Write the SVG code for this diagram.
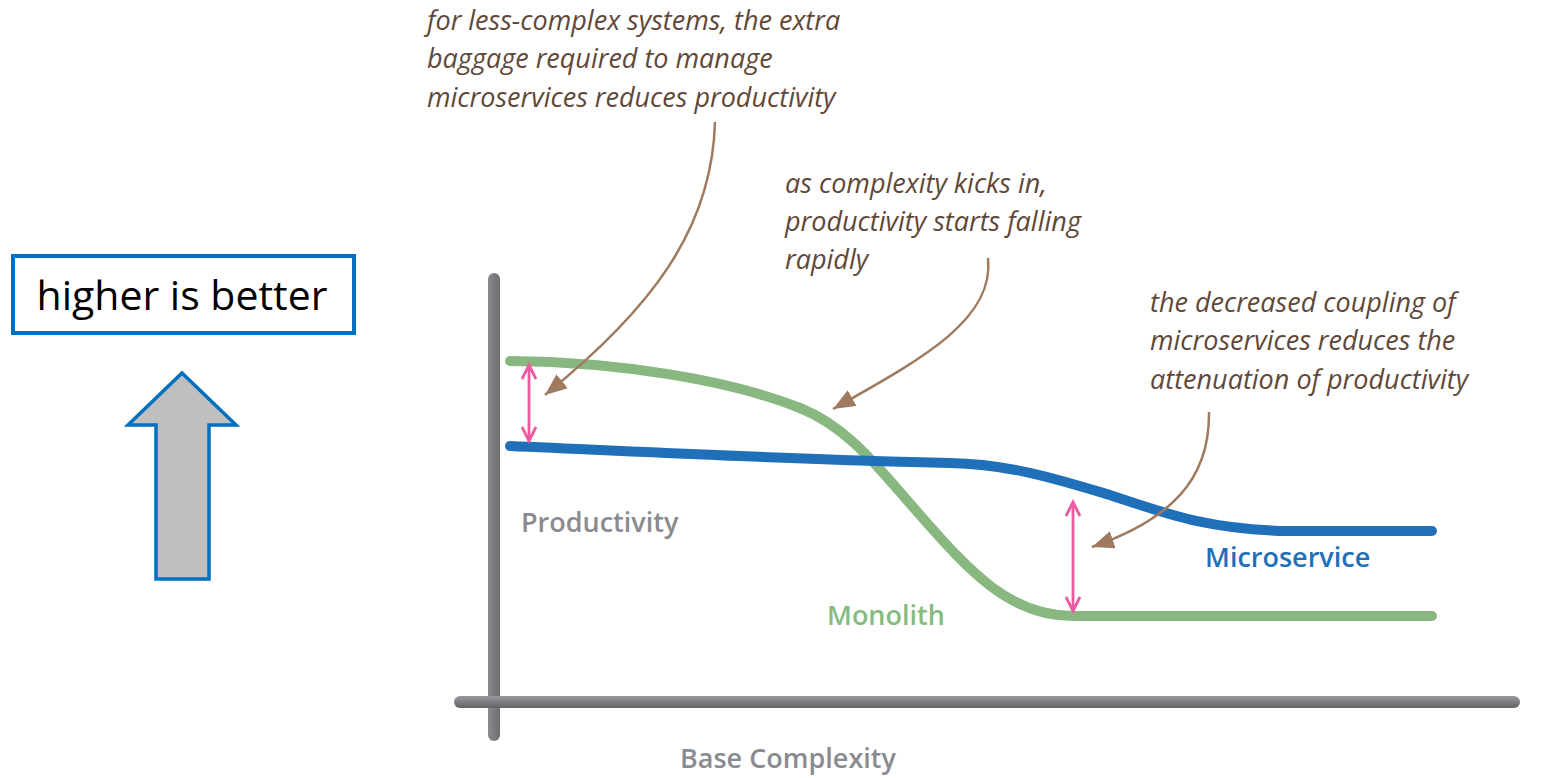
<svg xmlns="http://www.w3.org/2000/svg" width="1560" height="778" viewBox="0 0 1560 778">
<style>
.note{font-family:"Open Sans","DejaVu Sans",sans-serif;font-style:italic;font-size:27px;fill:#5f4838}
.lbl{font-family:"Open Sans","DejaVu Sans",sans-serif;font-weight:600;font-size:27px}
.ann{fill:none;stroke:#a07a5e;stroke-width:2.5}
.gap{fill:none;stroke:#ec5aa0;stroke-width:2.8}
.curve{fill:none;stroke-width:10;stroke-linecap:round;stroke-linejoin:round}
</style>
<defs>
<linearGradient id="gh" gradientUnits="userSpaceOnUse" x1="0" y1="696" x2="0" y2="708"><stop offset="0" stop-color="#98989c"/><stop offset="1" stop-color="#636368"/></linearGradient>
<linearGradient id="gv" gradientUnits="userSpaceOnUse" x1="488" y1="0" x2="500" y2="0"><stop offset="0" stop-color="#8a8a8f"/><stop offset="1" stop-color="#6c6c71"/></linearGradient>
<marker id="ah" markerUnits="userSpaceOnUse" markerWidth="24" markerHeight="18" refX="22" refY="9" orient="auto"><path d="M0,0 L22,9 L0,18 Z" fill="#a07a5e"/></marker>
<marker id="pk" markerUnits="userSpaceOnUse" markerWidth="18" markerHeight="18" refX="15" refY="9" orient="auto-start-reverse"><path d="M1,2 L15,9 L1,16" fill="none" stroke="#ec5aa0" stroke-width="2.8"/></marker>
</defs>
<rect width="1560" height="778" fill="#ffffff"/>

<g id="legend-box">
<rect x="13" y="256" width="341" height="77" fill="#ffffff" stroke="#0070c0" stroke-width="4"/>
<text x="182" y="310" text-anchor="middle" font-family="Open Sans, DejaVu Sans, sans-serif" font-size="41" fill="#000000">higher is better</text>
</g>
<g id="up-arrow">
<path d="M182,373 L236,425 L209,425 L209,579 L156,579 L156,425 L128,425 Z" fill="#bfbfbf" stroke="#0070c0" stroke-width="3.5"/>
</g>

<g id="axes">
<rect x="488" y="273" width="12" height="468" rx="6" fill="url(#gv)"/>
<rect x="454" y="696" width="1066" height="12" rx="6" fill="url(#gh)"/>
<text class="lbl" x="521" y="532" fill="#8a8b90">Productivity</text>
<text class="lbl" x="680" y="768" fill="#8a8b90">Base Complexity</text>
</g>

<g id="monolith">
<path class="curve" stroke="#88b880" d="M510,361 C620,362 730,380 800,408 C850,428 880,470 920,515 C970,572 1010,616 1073,616 L1432,616"/>
<text class="lbl" x="827" y="625" fill="#86bb7f">Monolith</text>
</g>
<g id="microservice">
<path class="curve" stroke="#1f70b8" d="M510,446 C650,452 800,460 950,463 C1010,464 1060,480 1110,495 C1170,515 1210,530 1290,531 L1432,531"/>
<text class="lbl" x="1205" y="567" fill="#1f70b8">Microservice</text>
</g>

<g id="connectors">
<line class="gap" x1="529" y1="365" x2="529" y2="441" marker-start="url(#pk)" marker-end="url(#pk)"/>
<line class="gap" x1="1073" y1="502" x2="1073" y2="611" marker-start="url(#pk)" marker-end="url(#pk)"/>
<path class="ann" d="M715,122 C712,230 650,310 545,395" marker-end="url(#ah)"/>
<path class="ann" d="M988,258 C995,320 920,360 833,409" marker-end="url(#ah)"/>
<path class="ann" d="M1209,412 C1210,480 1170,520 1092,547" marker-end="url(#ah)"/>
</g>

<g id="note-1">
<text class="note" x="427" y="30">for less-complex systems, the extra</text>
<text class="note" x="427" y="68">baggage required to manage</text>
<text class="note" x="427" y="107">microservices reduces productivity</text>
</g>
<g id="note-2">
<text class="note" x="785" y="193">as complexity kicks in,</text>
<text class="note" x="785" y="231">productivity starts falling</text>
<text class="note" x="785" y="269">rapidly</text>
</g>
<g id="note-3">
<text class="note" x="1150" y="312">the decreased coupling of</text>
<text class="note" x="1150" y="350">microservices reduces the</text>
<text class="note" x="1150" y="389">attenuation of productivity</text>
</g>
</svg>
